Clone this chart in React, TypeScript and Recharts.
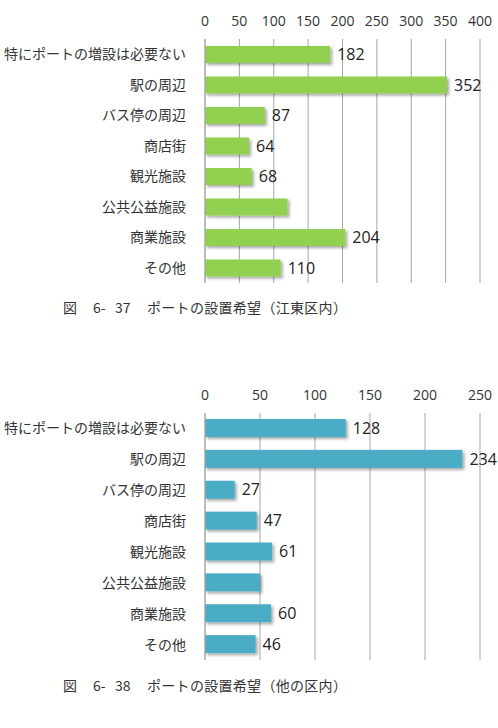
import React from "react";
import { BarChart, Bar, XAxis, YAxis, CartesianGrid, LabelList } from "recharts";

const categories = [
  "特にポートの増設は必要ない",
  "駅の周辺",
  "バス停の周辺",
  "商店街",
  "観光施設",
  "公共公益施設",
  "商業施設",
  "その他",
];

// 江東区内
const kotoValues = [182, 352, 87, 64, 68, 120, 204, 110];
const kotoShowLabel = [true, true, true, true, true, false, true, true];
const kotoTicks = [0, 50, 100, 150, 200, 250, 300, 350, 400];

// 他の区内
const otherValues = [128, 234, 27, 47, 61, 50, 60, 46];
const otherShowLabel = [true, true, true, true, true, false, true, true];
const otherTicks = [0, 50, 100, 150, 200, 250];

const boundaryTicks = [0, 1, 2, 3, 4, 5, 6, 7, 8];

const CJK = '"Noto Sans CJK JP", "Noto Sans", sans-serif';
const NUM = '"Open Sans", "Noto Sans", sans-serif';

const ShadowBar = (props: any) => {
  const { x, y, width, height, fill } = props;
  if (!width || width <= 0) return null;
  return <rect x={x} y={y} width={width} height={height} fill={fill} filter="url(#barShadow)" />;
};

function HBarChart({
  values,
  show,
  ticks,
  color,
  height,
  barSize,
}: {
  values: number[];
  show: boolean[];
  ticks: number[];
  color: string;
  height: number;
  barSize: number;
}) {
  const data = categories.map((name, i) => ({
    name,
    value: values[i],
    label: show[i] ? values[i] : "",
  }));
  const max = ticks[ticks.length - 1];
  return (
    <BarChart
      width={498}
      height={height}
      data={data}
      layout="vertical"
      margin={{ top: 0, right: 18, bottom: 7, left: 0 }}
    >
      <defs>
        <filter id="barShadow" x="-10%" y="-30%" width="130%" height="180%">
          <feDropShadow dx="2" dy="2" stdDeviation="1.5" floodColor="#000" floodOpacity="0.35" />
        </filter>
      </defs>
      <CartesianGrid horizontal={false} stroke="#a6a6a6" strokeWidth={1} />
      <XAxis
        type="number"
        orientation="top"
        domain={[0, max]}
        ticks={ticks}
        height={39}
        axisLine={false}
        tickLine={false}
        tickMargin={7}
        tick={{ fill: "#333", fontSize: 14, fontFamily: NUM }}
        interval={0}
      />
      <YAxis
        yAxisId="cat"
        type="category"
        dataKey="name"
        width={205}
        axisLine={{ stroke: "#a6a6a6" }}
        tickLine={false}
        tickMargin={13}
        tick={{ fill: "#333", fontSize: 14, fontFamily: CJK }}
        interval={0}
      />
      <YAxis
        yAxisId="bound"
        type="number"
        domain={[0, 8]}
        ticks={boundaryTicks}
        width={0}
        axisLine={false}
        tickLine={{ stroke: "#a6a6a6" }}
        tickSize={5}
        tickFormatter={() => ""}
        interval={0}
      />
      <Bar
        yAxisId="cat"
        dataKey="value"
        fill={color}
        barSize={barSize}
        shape={<ShadowBar />}
        isAnimationActive={false}
      >
        <LabelList
          dataKey="label"
          position="right"
          offset={7}
          fill="#222"
          fontSize={16}
          fontFamily={NUM}
        />
      </Bar>
    </BarChart>
  );
}

const captionStyle: React.CSSProperties = {
  position: "absolute",
  left: 63,
  display: "flex",
  fontFamily: '"Noto Sans CJK JP", sans-serif',
  fontSize: 14,
  color: "#333",
  whiteSpace: "pre",
  lineHeight: "18px",
};

function Caption({ top, num, title }: { top: number; num: string; title: string }) {
  return (
    <div style={{ ...captionStyle, top }}>
      <span style={{ width: 30 }}>図</span>
      <span style={{ width: 22 }}>6-</span>
      <span style={{ width: 32 }}>{num}</span>
      <span style={{ letterSpacing: 0.3 }}>{title}</span>
    </div>
  );
}

export default function App() {
  return (
    <div style={{ position: "absolute", left: 0, top: 0, width: 498, height: 728, background: "#fff" }}>
      <div style={{ position: "absolute", left: 0, top: 0 }}>
        <HBarChart values={kotoValues} show={kotoShowLabel} ticks={kotoTicks} color="#92d050" height={290} barSize={17} />
      </div>
      <Caption top={298} num="37" title="ポートの設置希望（江東区内）" />
      <div style={{ position: "absolute", left: 0, top: 374 }}>
        <HBarChart values={otherValues} show={otherShowLabel} ticks={otherTicks} color="#4bacc6" height={293} barSize={18} />
      </div>
      <Caption top={676} num="38" title="ポートの設置希望（他の区内）" />
    </div>
  );
}
